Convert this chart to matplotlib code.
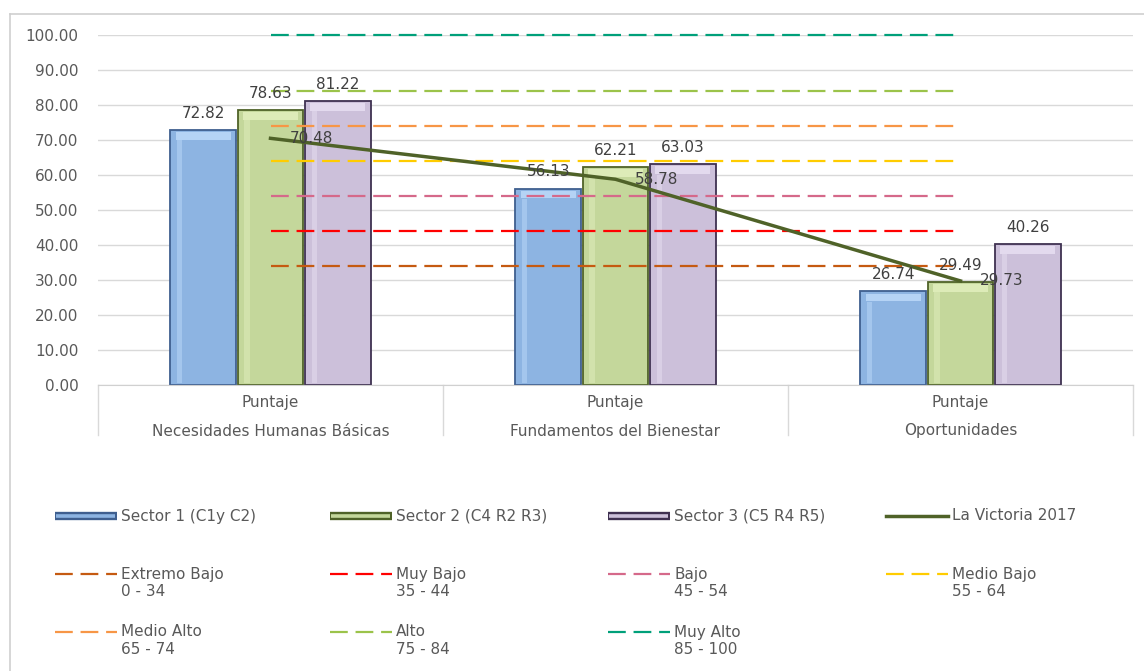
import matplotlib.pyplot as plt
from matplotlib.lines import Line2D
from matplotlib.patches import Rectangle
import matplotlib.transforms as mtransforms

plt.rcParams['font.family'] = ['DejaVu Sans']

# categories and series
categories = ['Necesidades Humanas Básicas', 'Fundamentos del Bienestar', 'Oportunidades']
sub_label = 'Puntaje'
sector_names = ['Sector 1 (C1y C2)', 'Sector 2 (C4 R2 R3)', 'Sector 3 (C5 R4 R5)']
sector1 = [72.82, 56.13, 26.74]
sector2 = [78.63, 62.21, 29.49]
sector3 = [81.22, 63.03, 40.26]
victoria_name = 'La Victoria 2017'
victoria = [70.48, 58.78, 29.73]

# reference levels
level_names = ['Extremo Bajo', 'Muy Bajo', 'Bajo', 'Medio Bajo', 'Medio Alto', 'Alto', 'Muy Alto']
level_ranges = ['0 - 34', '35 - 44', '45 - 54', '55 - 64', '65 - 74', '75 - 84', '85 - 100']
level_values = [34, 44, 54, 64, 74, 84, 100]
level_colors = ['#C55A11', '#FF0000', '#D5698A', '#FFCC00', '#F79646', '#9BC34A', '#00A07A']

bar_faces = ['#8DB4E2', '#C4D79B', '#CCC0DA']
bar_edges = ['#3F5F8F', '#4F6228', '#3F3151']
bar_lights = ['#B5D3F5', '#DDEBB8', '#E3DAEE']
line_color = '#4F6228'
text_color = '#595959'

W, H = 1144, 671
fig = plt.figure(figsize=(W / 100, H / 100), dpi=100)


def fx(px):
    return px / W


def fy(py):
    return 1 - py / H


ax = fig.add_axes([fx(98), fy(385), fx(1133 - 98), 350 / H])
ax.set_xlim(-0.5, 2.5)
ax.set_ylim(0, 100)

# outer frame
fig.add_artist(Line2D([fx(10), fx(10)], [fy(14), 0], color='#CFCFCF', lw=1.2))
fig.add_artist(Line2D([fx(10), 1], [fy(14), fy(14)], color='#CFCFCF', lw=1.2))

ax.set_yticks(range(0, 101, 10))
ax.set_yticklabels([f'{v:.2f}' for v in range(0, 101, 10)], color=text_color, fontsize=11)
ax.tick_params(axis='y', length=0, pad=14)
ax.set_xticks([])
ax.grid(axis='y', color='#D9D9D9', lw=1)
ax.set_axisbelow(True)
for s in ['top', 'right', 'left']:
    ax.spines[s].set_visible(False)
ax.spines['bottom'].set_color('#D0D0D0')

x = [0, 1, 2]
offsets = [-0.195, 0.0, 0.195]
width = 0.19
for vals, off, fc, ec, lc in zip([sector1, sector2, sector3], offsets, bar_faces, bar_edges, bar_lights):
    xs = [i + off for i in x]
    ax.bar(xs, vals, width, color=fc, edgecolor=ec, lw=1.3, zorder=2)
    # bevel highlights
    ax.bar(xs, [2.2] * 3, width * 0.84, bottom=[v - 2.8 for v in vals], color=lc, lw=0, zorder=2.1)
    ax.bar([p - width * 0.36 for p in xs], [v - 3.5 for v in vals], width * 0.08, bottom=0.6,
           color=lc, lw=0, alpha=0.6, zorder=2.1)
    for xi, v in zip(xs, vals):
        ax.annotate(f'{v:.2f}', (xi, v), xytext=(0, 12), textcoords='offset points',
                    ha='center', va='center', fontsize=11, color='#404040', zorder=5)

# reference level lines
for v, c in zip(level_values, level_colors):
    ax.plot(x, [v] * 3, color=c, lw=1.6, ls=(0, (8, 3.5)), zorder=3, clip_on=False)

ax.plot(x, victoria, color=line_color, lw=2.5, zorder=4)
for xi, v in zip(x, victoria):
    ax.annotate(f'{v:.2f}', (xi, v), xytext=(14, 0), textcoords='offset points',
                ha='left', va='center', fontsize=11, color='#404040', zorder=5)

# two-level category axis
trans = mtransforms.blended_transform_factory(ax.transData, ax.transAxes)
for b in [-0.5, 0.5, 1.5, 2.5]:
    ax.add_line(Line2D([b, b], [0, -50 / 350], color='#D9D9D9', lw=1, transform=trans, clip_on=False))
for i, name in enumerate(categories):
    ax.text(i, -18 / 350, sub_label, transform=trans, ha='center', va='center', fontsize=11, color=text_color)
    ax.text(i, -46 / 350, name, transform=trans, ha='center', va='center', fontsize=11, color=text_color)

# legend drawn by hand, four columns
col_x = [55, 330, 608, 886]
hw = 62


def bar_handle(cx, cy, face, edge):
    fig.add_artist(Line2D([fx(cx), fx(cx + hw)], [fy(cy), fy(cy)], color=edge, lw=6, solid_capstyle='butt'))
    fig.add_artist(Line2D([fx(cx + 1), fx(cx + hw - 2)], [fy(cy - 0.5), fy(cy - 0.5)], color=face, lw=2.6,
                          solid_capstyle='butt'))


for k, name in enumerate(sector_names):
    bar_handle(col_x[k], 516, bar_faces[k], bar_edges[k])
    fig.text(fx(col_x[k] + hw + 4), fy(516), name, ha='left', va='center', fontsize=11, color=text_color)
fig.add_artist(Line2D([fx(col_x[3]), fx(col_x[3] + hw)], [fy(516), fy(516)], color=line_color, lw=2.5))
fig.text(fx(col_x[3] + hw + 4), fy(516), victoria_name, ha='left', va='center', fontsize=11, color=text_color)

for k, (name, rng, c) in enumerate(zip(level_names, level_ranges, level_colors)):
    row, col = divmod(k, 4)
    cy = 574 + row * 58
    cx = col_x[col]
    fig.add_artist(Line2D([fx(cx), fx(cx + hw)], [fy(cy), fy(cy)], color=c, lw=1.6, ls=(0, (8, 3.5))))
    fig.text(fx(cx + hw + 4), fy(cy), name, ha='left', va='center', fontsize=11, color=text_color)
    fig.text(fx(cx + hw + 4), fy(cy + 17), rng, ha='left', va='center', fontsize=11, color=text_color)

fig.savefig('out.png', dpi=100)
